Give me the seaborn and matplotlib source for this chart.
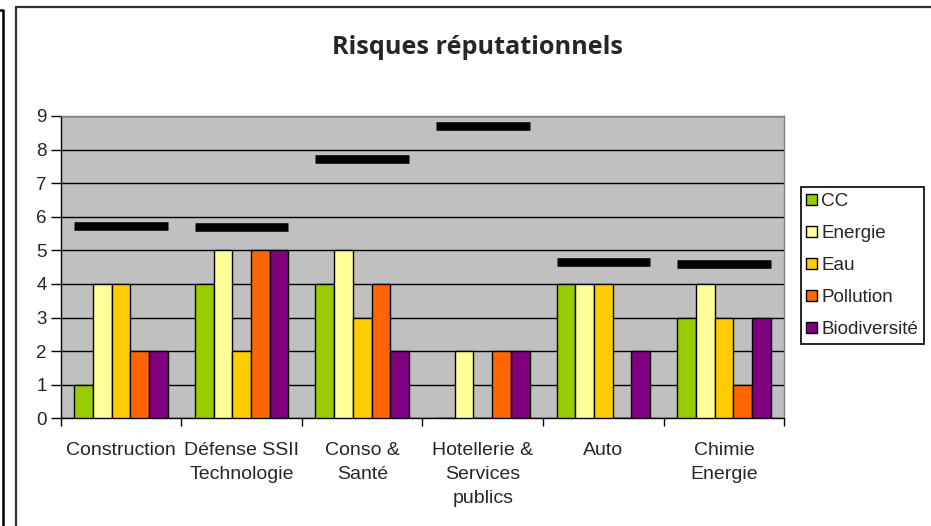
import numpy as np
import pandas as pd
import matplotlib
matplotlib.use("Agg")
import matplotlib.pyplot as plt
from matplotlib.lines import Line2D
import seaborn as sns

# data
secteurs = ["Construction", "Défense SSII\nTechnologie", "Conso &\nSanté",
            "Hotellerie &\nServices\npublics", "Auto", "Chimie\nEnergie"]
themes = ["CC", "Energie", "Eau", "Pollution", "Biodiversité"]
cc = [1, 4, 4, 0, 4, 3]
energie = [4, 5, 5, 2, 4, 4]
eau = [4, 2, 3, 0, 4, 3]
pollution = [2, 5, 4, 2, 0, 1]
biodiversite = [2, 5, 2, 2, 2, 3]
# black dashes drawn above each group
repere = [5.73, 5.7, 7.73, 8.7, 4.65, 4.6]

couleurs = ["#99CC00", "#FFFF99", "#FFCC00", "#FF6600", "#800080"]

series = [cc, energie, eau, pollution, biodiversite]
df = pd.DataFrame([
    {"secteur": s, "theme": t, "score": v}
    for t, vals in zip(themes, series)
    for s, v in zip(secteurs, vals)
])

sns.set_theme(style="white")
plt.rcParams["font.family"] = ["Liberation Sans", "DejaVu Sans"]

W, H = 931, 526
fig = plt.figure(figsize=(W / 100, H / 100), dpi=100)
ax = fig.add_axes([60.7 / W, 1 - 418.3 / H, (784.3 - 60.7) / W, (418.3 - 116) / H])
ax.set_facecolor("#C0C0C0")

largeur = 0.776
sns.barplot(data=df, x="secteur", y="score", hue="theme", order=secteurs,
            hue_order=themes, palette=couleurs, width=largeur, gap=0,
            edgecolor="black", linewidth=1, saturation=1, ax=ax, zorder=3)

pos = np.arange(len(secteurs))
ax.hlines(repere, pos - largeur / 2, pos + largeur / 2, colors="black",
          linewidth=6.2, zorder=4)

ax.set_xlim(-0.5, len(secteurs) - 0.5)
ax.set_ylim(0, 9)
ax.set_yticks(range(0, 10))
ax.yaxis.grid(True, color="black", linewidth=1, zorder=0)
ax.set_axisbelow(True)
ax.set_xlabel("")
ax.set_ylabel("")

ax.tick_params(axis="y", which="major", length=7, width=1, color="black",
               left=True, labelsize=13.5, pad=3)
ax.set_xticks(pos)
ax.set_xticklabels(secteurs, linespacing=1.55)
ax.tick_params(axis="x", which="major", length=0, labelsize=14, pad=17)
ax.set_xticks(np.arange(-0.5, len(secteurs)), minor=True)
ax.tick_params(axis="x", which="minor", length=6, width=1, color="black",
               bottom=True)

for side in ["left", "bottom"]:
    ax.spines[side].set_color("black")
    ax.spines[side].set_linewidth(1)
for side in ["top", "right"]:
    ax.spines[side].set_color("#808080")
    ax.spines[side].set_linewidth(1)

handles, labels = ax.get_legend_handles_labels()
ax.get_legend().remove()
leg = fig.legend(handles, labels, loc="upper left",
                 bbox_to_anchor=(800.7 / W, 1 - 187.3 / H),
                 bbox_transform=fig.transFigure, fontsize=13.6,
                 frameon=True, fancybox=False, edgecolor="black",
                 framealpha=1, handlelength=0.55, handleheight=0.55,
                 handletextpad=0.25, labelspacing=0.8, borderpad=0.3,
                 borderaxespad=0)
leg.get_frame().set_linewidth(1.2)

fig.text(477 / W, 1 - 47 / H, "Risques réputationnels", ha="center",
         va="center", fontsize=18.2, fontweight="bold",
         family=["Open Sans", "DejaVu Sans"])

# chart frame and the edge of the neighbouring one
x0, y0 = 16 / W, 1 - 7 / H
fig.add_artist(Line2D([x0, x0], [0, y0], color="#303030", linewidth=1.6,
                      transform=fig.transFigure))
fig.add_artist(Line2D([x0, 1], [y0, y0], color="#303030", linewidth=1.6,
                      transform=fig.transFigure))
x1, y1 = 3 / W, 1 - 10 / H
fig.add_artist(Line2D([0, x1, x1], [y1, y1, 0], color="black", linewidth=1.8,
                      transform=fig.transFigure))

fig.savefig("out.png", dpi=100)
